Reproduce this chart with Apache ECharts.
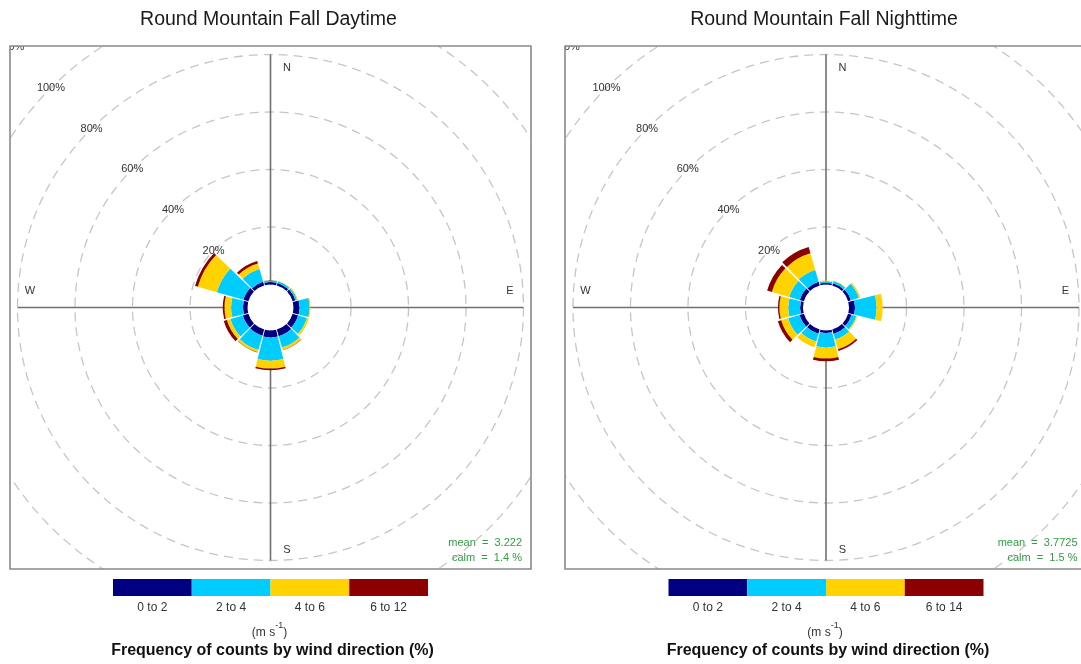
<!DOCTYPE html>
<html><head><meta charset="utf-8">
<script src="https://cdn.jsdelivr.net/npm/echarts@6.0.0/dist/echarts.min.js"></script>
<style>html,body{margin:0;padding:0;background:#fff}#c{width:1081px;height:664px}</style>
</head><body><div id="c"></div>
<script>
// ---------------- data ----------------
const directions = [0, 30, 60, 90, 120, 150, 180, 210, 240, 270, 300, 330];
const dayBinLabels = ['0 to 2', '2 to 4', '4 to 6', '6 to 12'];
const nightBinLabels = ['0 to 2', '2 to 4', '4 to 6', '6 to 14'];
// frequency (%) per direction and speed bin (m/s)
const day_0to2  = [0.9, 0.9, 1.0, 2.1, 2.0, 2.4, 2.4, 2.2, 2.0, 1.6, 1.8, 1.3];
const day_2to4  = [0.6, 0.6, 0.6, 3.5, 3.2, 4.1, 8.1, 5.2, 4.5, 4.1, 9.6, 4.6];
const day_4to6  = [0.1, 0.2, 0.3, 0.3, 0.7, 0.9, 2.7, 0.8, 1.3, 2.3, 6.9, 2.0];
const day_6to12 = [0.0, 0.0, 0.0, 0.0, 0.0, 0.1, 0.6, 0.1, 1.1, 0.6, 1.0, 0.9];
const night_0to2  = [0.6, 0.8, 1.0, 2.1, 1.3, 1.6, 0.9, 1.5, 1.6, 1.0, 1.5, 1.3];
const night_2to4  = [0.5, 0.8, 2.9, 7.5, 1.6, 2.0, 5.0, 2.8, 4.1, 4.1, 3.8, 4.3];
const night_4to6  = [0.3, 0.2, 0.5, 2.1, 0.4, 3.5, 3.8, 2.1, 2.5, 3.1, 6.3, 6.0];
const night_6to14 = [0.0, 0.0, 0.0, 0.0, 0.0, 0.6, 1.0, 0.0, 1.2, 0.5, 1.7, 2.3];
const ringTicks = [20, 40, 60, 80, 100, 120];
const ringTickLabels = ['20%', '40%', '60%', '80%', '100%', '120%'];
const titles = ['Round Mountain Fall Daytime', 'Round Mountain Fall Nighttime'];
const meanTexts = ['mean  =  3.222', 'mean  =  3.7725'];
const calmTexts = ['calm  =  1.4 %', 'calm  =  1.5 %'];
const compassLabels = ['N', 'E', 'S', 'W'];
const captionText = 'Frequency of counts by wind direction (%)';

// ---------------- styling / layout ----------------
const binColors = ['#000080', '#00ccff', '#ffd200', '#8b0000'];
const PX = 2.875;        // px per percent
const HOLE = 8;          // hole radius in percent units
const AXIS_REACH = 80;   // cross lines reach
const LABEL_DIR = 315;
const FONT = '"Liberation Sans", Arial, sans-serif';
const CANVAS_W = 1081;
const panels = [
  {left: 10, top: 46, width: 521, height: 523, bins: [day_0to2, day_2to4, day_4to6, day_6to12], binLabels: dayBinLabels},
  {left: 565, top: 46, width: 522, height: 523, bins: [night_0to2, night_2to4, night_4to6, night_6to14], binLabels: nightBinLabels}
];
const halfWidth = 360 / directions.length / 2;

function ctr(api) { return api.coord([0, 0]); }
function unit(api) { return api.size([1, 0])[0]; }

function renderSector(params, api) {
  const c = ctr(api), u = unit(api);
  const d = api.value(0), lo = api.value(1), hi = api.value(2), b = api.value(3);
  const h = halfWidth - 1;
  return {
    type: 'sector',
    shape: {cx: c[0], cy: c[1], r0: (lo + HOLE) * u, r: (hi + HOLE) * u,
      startAngle: (d - h - 90) * Math.PI / 180, endAngle: (d + h - 90) * Math.PI / 180, clockwise: true},
    style: {fill: binColors[b]}
  };
}
function renderRing(params, api) {
  const c = ctr(api), u = unit(api);
  return {type: 'circle', shape: {cx: c[0], cy: c[1], r: (api.value(0) + HOLE) * u},
    style: {fill: 'none', stroke: '#c6c6c6', lineWidth: 1.3, lineDash: [9, 6]}};
}
function renderRingLabel(params, api) {
  const c = ctr(api), u = unit(api);
  const r = (api.value(0) + HOLE) * u, a = LABEL_DIR * Math.PI / 180;
  return {type: 'text', x: c[0] + r * Math.sin(a), y: c[1] - r * Math.cos(a),
    style: {text: ringTickLabels[api.value(1)], fill: '#333', font: '11px ' + FONT,
      align: 'center', verticalAlign: 'middle', textAlign: 'center', textVerticalAlign: 'middle'}};
}
function renderCross(params, api) {
  const c = ctr(api), u = unit(api);
  const a = api.value(0) * Math.PI / 180;
  const r0 = HOLE * u, r1 = (AXIS_REACH + HOLE) * u;
  return {type: 'line', shape: {x1: c[0] + r0 * Math.sin(a), y1: c[1] - r0 * Math.cos(a),
    x2: c[0] + r1 * Math.sin(a), y2: c[1] - r1 * Math.cos(a)},
    style: {stroke: '#707070', lineWidth: 1.6}};
}

const grids = [], xAxes = [], yAxes = [], series = [], gfx = [];
panels.forEach((p, i) => {
  const cx = p.left + p.width / 2, cy = p.top + p.height / 2;
  const visRight = Math.min(p.left + p.width, CANVAS_W);
  grids.push({left: p.left, top: p.top, width: visRight - p.left, height: p.height, show: false});
  xAxes.push({gridIndex: i, type: 'value', min: -(cx - p.left) / PX, max: (visRight - cx) / PX, show: false});
  yAxes.push({gridIndex: i, type: 'value', min: -p.height / 2 / PX, max: p.height / 2 / PX, show: false});
  const common = {type: 'custom', coordinateSystem: 'cartesian2d', xAxisIndex: i, yAxisIndex: i, silent: true};
  series.push(Object.assign({}, common, {name: 'rings' + i, z: 1, clip: true, renderItem: renderRing,
    encode: {x: 1, y: 1}, data: ringTicks.map(v => [v, 0])}));
  series.push(Object.assign({}, common, {name: 'cross' + i, z: 2, renderItem: renderCross,
    encode: {x: 1, y: 1}, data: [0, 90, 180, 270].map(v => [v, 0])}));
  const secData = [];
  directions.forEach((d, j) => {
    let acc = 0;
    p.bins.forEach((arr, b) => {
      const lo = acc; acc += arr[j];
      secData.push([d, lo, acc, b]);
    });
  });
  series.push(Object.assign({}, common, {name: 'rose' + i, z: 3, renderItem: renderSector,
    encode: {x: 1, y: 2}, data: secData}));
  series.push(Object.assign({}, common, {name: 'ringLabels' + i, z: 4, clip: true, renderItem: renderRingLabel,
    encode: {x: 1, y: 1}, data: ringTicks.map((v, k) => [v, k])}));

  // frame
  gfx.push({type: 'rect', z: 9, shape: {x: p.left, y: p.top, width: p.width, height: p.height},
    style: {fill: 'none', stroke: '#8a8a8a', lineWidth: 1.6}});
  const txt = (text, x, y, font, fill, align) => ({type: 'text', x: x, y: y, z: 10,
    style: {text: text, font: font, fill: fill, align: align || 'center', verticalAlign: 'middle',
      textAlign: align || 'center', textVerticalAlign: 'middle'}});
  gfx.push(txt(titles[i], cx - 2, 20, '19.5px ' + FONT, '#1a1a1a'));
  const compassPos = [[16.5, -239.5], [239.5, -16.5], [16.5, 242.5], [-240.5, -16.5]];
  compassLabels.forEach((l, k) => gfx.push(txt(l, cx + compassPos[k][0], cy + compassPos[k][1], '11px ' + FONT, '#333')));
  gfx.push(txt(meanTexts[i], cx + 251.5, 543, '11px ' + FONT, '#2fa043', 'right'));
  gfx.push(txt(calmTexts[i], cx + 251.5, 558, '11px ' + FONT, '#2fa043', 'right'));
  const barW = 315, segW = barW / binColors.length, bx = cx - barW / 2;
  binColors.forEach((col, k) => {
    gfx.push({type: 'rect', z: 10, shape: {x: bx + k * segW, y: 579, width: segW, height: 17}, style: {fill: col}});
    gfx.push(txt(p.binLabels[k], bx + (k + 0.5) * segW, 607.5, '12px ' + FONT, '#333'));
  });
  gfx.push({type: 'text', x: cx - 1, y: 630, z: 10, style: {
    text: '{a|(m s}{s|-1}{a|)}', align: 'center', verticalAlign: 'middle', textAlign: 'center', textVerticalAlign: 'middle',
    rich: {a: {font: '12px ' + FONT, fill: '#333', lineHeight: 18, verticalAlign: 'bottom'},
           s: {font: '9px ' + FONT, fill: '#333', lineHeight: 10, verticalAlign: 'top'}}}});
  gfx.push(txt(captionText, cx + 2, 651, 'bold 16px ' + FONT, '#111'));
});

const chart = echarts.init(document.getElementById('c'), null, {renderer: 'canvas'});
chart.setOption({
  animation: false,
  backgroundColor: '#fff',
  grid: grids, xAxis: xAxes, yAxis: yAxes, series: series,
  graphic: {elements: gfx}
});
</script></body></html>
